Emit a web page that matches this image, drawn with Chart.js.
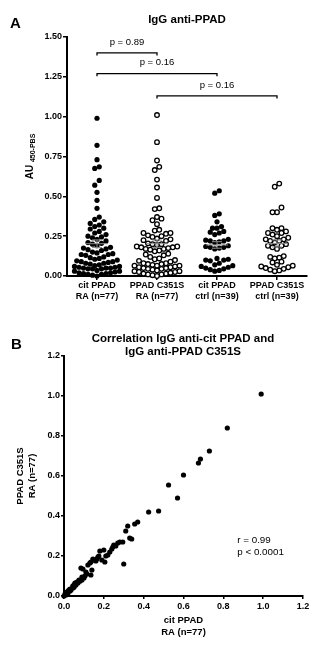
<!DOCTYPE html>
<html>
<head>
<meta charset="utf-8">
<script src="https://cdn.jsdelivr.net/npm/chart.js@4.4.0/dist/chart.umd.min.js"></script>
<style>
  html, body { margin: 0; padding: 0; background: #fff; }
  body { width: 336px; height: 649px; position: relative; overflow: hidden; }
  .wrap { position: absolute; left: 0; width: 336px; }
  #wrapA { top: 0; height: 310px; }
  #wrapB { top: 310px; height: 339px; }
</style>
</head>
<body>
<div class="wrap" id="wrapA"><canvas id="chartA"></canvas></div>
<div class="wrap" id="wrapB"><canvas id="chartB"></canvas></div>
<script>
// ---- data ----
const GROUP_LABELS = [
  ['cit PPAD', 'RA (n=77)'],
  ['PPAD C351S', 'RA (n=77)'],
  ['cit PPAD', 'ctrl (n=39)'],
  ['PPAD C351S', 'ctrl (n=39)'],
];

// paired RA sera: same index = same patient (used in both panels)
const citRA = [
  0.99, 0.82, 0.73, 0.685, 0.675, 0.60, 0.525, 0.57, 0.475, 0.425,
  0.37, 0.355, 0.32, 0.31, 0.34, 0.33, 0.295, 0.25, 0.245, 0.30,
  0.22, 0.21, 0.18, 0.20, 0.205, 0.17, 0.175, 0.165, 0.15, 0.145,
  0.135, 0.13, 0.12, 0.19, 0.16, 0.085, 0.095, 0.135, 0.115, 0.09,
  0.09, 0.26, 0.27, 0.23, 0.24, 0.28, 0.08, 0.075, 0.07, 0.065,
  0.06, 0.06, 0.055, 0.05, 0.05, 0.045, 0.045, 0.045, 0.05, 0.035,
  0.03, 0.03, 0.025, 0.02, 0.02, 0.015, 0.015, 0.01, 0.01, 0.005,
  0.0, 0.11, 0.10, 0.105, 0.08, 0.14, 0.055,
];
const c351sRA = [
  1.01, 0.84, 0.725, 0.685, 0.665, 0.605, 0.555, 0.49, 0.425, 0.42,
  0.37, 0.36, 0.35, 0.325, 0.285, 0.29, 0.27, 0.255, 0.245, 0.16,
  0.205, 0.20, 0.225, 0.23, 0.17, 0.195, 0.20, 0.185, 0.18, 0.185,
  0.17, 0.165, 0.155, 0.18, 0.175, 0.14, 0.135, 0.105, 0.11, 0.095,
  0.08, 0.25, 0.265, 0.22, 0.235, 0.27, 0.075, 0.08, 0.065, 0.07,
  0.055, 0.065, 0.06, 0.045, 0.055, 0.05, 0.04, 0.05, 0.045, 0.03,
  0.035, 0.025, 0.03, 0.025, 0.015, 0.02, 0.01, 0.015, 0.005, 0.01,
  0.0, 0.12, 0.09, 0.10, 0.075, 0.13, 0.065,
];
const citCtrl = [
  0.535, 0.52, 0.39, 0.38, 0.34, 0.31, 0.30, 0.30, 0.28, 0.275,
  0.27, 0.26, 0.23, 0.225, 0.22, 0.22, 0.215, 0.21, 0.19, 0.185,
  0.18, 0.18, 0.175, 0.17, 0.11, 0.105, 0.10, 0.10, 0.095, 0.08,
  0.07, 0.065, 0.06, 0.055, 0.05, 0.045, 0.04, 0.035, 0.03,
];
const c351sCtrl = [
  0.58, 0.56, 0.43, 0.40, 0.40, 0.30, 0.30, 0.29, 0.28, 0.27,
  0.27, 0.26, 0.25, 0.24, 0.23, 0.23, 0.22, 0.22, 0.21, 0.20,
  0.19, 0.19, 0.18, 0.17, 0.125, 0.12, 0.115, 0.11, 0.09, 0.085,
  0.07, 0.065, 0.06, 0.055, 0.05, 0.045, 0.04, 0.035, 0.03,
];

const Y_TICKS_A = [0, 0.25, 0.5, 0.75, 1.0, 1.25, 1.5];
const TICKS_B = [0, 0.2, 0.4, 0.6, 0.8, 1.0, 1.2];

const BRACKET_FROM = [0, 0, 1];
const BRACKET_TO = [1, 2, 3];
const BRACKET_LEVEL = [1.40, 1.27, 1.13];
const BRACKET_TEXT = ['p = 0.89', 'p = 0.16', 'p = 0.16'];

const CORR_TEXT = ['r = 0.99', 'p < 0.0001'];

// ---- look ----
const FONT = "'Liberation Sans', Arial, sans-serif";
const BLACK = '#000';
const MEAN_GREY = '#8c8c8c';

Chart.defaults.font.family = FONT;
Chart.defaults.color = BLACK;

// Prism-style column scatter: sorted values are grouped into rows (a row
// spans at most rowH px and holds at most maxRow dots), then each row is
// spread sideways from the centre, lowest value in the middle
function rowOffsets(values, pxPerUnit, rowH, step, maxRow) {
  const order = values.map((v, i) => i).sort((a, b) => values[a] - values[b]);
  const rows = [];
  let cur = [];
  order.forEach((i) => {
    if (cur.length && ((values[i] - values[cur[0]]) * pxPerUnit > rowH || cur.length >= maxRow)) {
      rows.push(cur);
      cur = [];
    }
    cur.push(i);
  });
  if (cur.length) rows.push(cur);

  const out = new Array(values.length);
  rows.forEach((idx) => {
    const n = idx.length;
    const slots = idx.map((_, j) => (j - (n - 1) / 2) * step);
    slots.sort((a, b) => Math.abs(a) - Math.abs(b) || a - b);
    idx.forEach((i, j) => { out[i] = slots[j]; });
  });
  return out;
}

const GROUPS_A = [citRA, c351sRA, citCtrl, c351sCtrl];
const PX_PER_Y = 239 / 1.5;
const PX_PER_CAT = 60;

function groupData(vals, gi) {
  const off = rowOffsets(vals, PX_PER_Y, 6, 4.5, 11);
  return vals.map((v, i) => ({ x: gi + off[i] / PX_PER_CAT, y: v }));
}

function filledSet(data) {
  return { data, pointRadius: 2.6, pointBackgroundColor: BLACK, pointBorderWidth: 0, clip: false };
}
function openSet(data) {
  return { data, pointRadius: 2.3, pointBackgroundColor: '#fff', pointBorderColor: BLACK, pointBorderWidth: 1.3, clip: false };
}

function axisStyle(tickLen) {
  return {
    grid: { display: true, drawOnChartArea: false, drawTicks: true, tickLength: tickLen, color: BLACK, lineWidth: 1.5 },
    border: { display: true, color: BLACK, width: 2 },
  };
}

// ---- panel A extras: titles, mean ± SEM, brackets ----
const panelAPlugin = {
  id: 'panelA',
  afterDatasetsDraw(chart) {
    const { ctx, scales: { x, y } } = chart;
    ctx.save();

    // mean with SEM
    ctx.strokeStyle = MEAN_GREY;
    ctx.lineWidth = 1;
    GROUPS_A.forEach((vals, gi) => {
      const n = vals.length;
      const mean = vals.reduce((s, v) => s + v, 0) / n;
      const sd = Math.sqrt(vals.reduce((s, v) => s + (v - mean) ** 2, 0) / (n - 1));
      const sem = sd / Math.sqrt(n);
      const cx = x.getPixelForValue(gi);
      const ym = y.getPixelForValue(mean);
      const yt = y.getPixelForValue(mean + sem);
      const yb = y.getPixelForValue(mean - sem);
      ctx.beginPath();
      ctx.moveTo(cx - 11, ym); ctx.lineTo(cx + 11, ym);
      ctx.moveTo(cx, yt); ctx.lineTo(cx, yb);
      ctx.moveTo(cx - 5, yt); ctx.lineTo(cx + 5, yt);
      ctx.moveTo(cx - 5, yb); ctx.lineTo(cx + 5, yb);
      ctx.stroke();
    });

    // significance brackets
    ctx.strokeStyle = BLACK;
    ctx.fillStyle = BLACK;
    ctx.lineWidth = 1.3;
    ctx.font = `9.5px ${FONT}`;
    ctx.textAlign = 'center';
    ctx.textBaseline = 'middle';
    BRACKET_TEXT.forEach((txt, i) => {
      const x1 = x.getPixelForValue(BRACKET_FROM[i]);
      const x2 = x.getPixelForValue(BRACKET_TO[i]);
      const yy = y.getPixelForValue(BRACKET_LEVEL[i]);
      ctx.beginPath();
      ctx.moveTo(x1, yy + 2.5); ctx.lineTo(x1, yy); ctx.lineTo(x2, yy); ctx.lineTo(x2, yy + 2.5);
      ctx.stroke();
      ctx.fillText(txt, (x1 + x2) / 2, yy - 11);
    });

    // title + panel letter
    ctx.font = `bold 11.5px ${FONT}`;
    ctx.fillText('IgG anti-PPAD', 187, 20);
    ctx.textAlign = 'left';
    ctx.textBaseline = 'alphabetic';
    ctx.font = `bold 15px ${FONT}`;
    ctx.fillText('A', 10, 27.5);

    // y title with subscript
    ctx.translate(33, (chart.chartArea.top + chart.chartArea.bottom) / 2);
    ctx.rotate(-Math.PI / 2);
    ctx.font = `bold 10px ${FONT}`;
    const main = 'AU ';
    const wMain = ctx.measureText(main).width;
    ctx.font = `bold 7px ${FONT}`;
    const sub = '450-PBS';
    const wSub = ctx.measureText(sub).width;
    const x0 = -(wMain + wSub) / 2;
    ctx.font = `bold 10px ${FONT}`;
    ctx.fillText(main, x0, 0);
    ctx.font = `bold 7px ${FONT}`;
    ctx.fillText(sub, x0 + wMain, 1.5);

    ctx.restore();
  },
};

new Chart(document.getElementById('chartA'), {
  type: 'scatter',
  data: {
    datasets: [
      filledSet(groupData(citRA, 0)),
      openSet(groupData(c351sRA, 1)),
      filledSet(groupData(citCtrl, 2)),
      openSet(groupData(c351sCtrl, 3)),
    ],
  },
  options: {
    responsive: true,
    maintainAspectRatio: false,
    animation: false,
    devicePixelRatio: 1,
    layout: { padding: { left: 0, right: 29, top: 37, bottom: 0 } },
    plugins: { legend: { display: false }, tooltip: { enabled: false } },
    scales: {
      x: {
        min: -0.5,
        max: 3.5,
        ...axisStyle(4),
        afterBuildTicks: (s) => { s.ticks = GROUP_LABELS.map((l, i) => ({ value: i })); },
        afterFit: (s) => { s.height = 34; },
        ticks: {
          padding: 0,
          autoSkip: false,
          maxRotation: 0,
          font: { size: 9, weight: 'bold', lineHeight: 1.22 },
          callback: (v) => GROUP_LABELS[v],
        },
      },
      y: {
        min: 0,
        max: 1.5,
        ...axisStyle(4),
        afterBuildTicks: (s) => { s.ticks = Y_TICKS_A.map((v) => ({ value: v })); },
        afterFit: (s) => { s.width = 67; },
        ticks: {
          padding: 1,
          font: { size: 9, weight: 'bold' },
          callback: (v) => v.toFixed(2),
        },
      },
    },
  },
  plugins: [panelAPlugin],
});

// ---- panel B ----
const panelBPlugin = {
  id: 'panelB',
  afterDatasetsDraw(chart) {
    const { ctx, scales: { x, y } } = chart;
    ctx.save();
    ctx.fillStyle = BLACK;
    ctx.textAlign = 'center';
    ctx.textBaseline = 'middle';
    ctx.font = `bold 11.5px ${FONT}`;
    ctx.fillText('Correlation IgG anti-cit PPAD and', 183, 29);
    ctx.fillText('IgG anti-PPAD C351S', 183, 42);

    ctx.textAlign = 'left';
    ctx.textBaseline = 'alphabetic';
    ctx.font = `bold 15px ${FONT}`;
    ctx.fillText('B', 11, 38.5);

    ctx.textBaseline = 'middle';
    ctx.font = `9.8px ${FONT}`;
    const tx = x.getPixelForValue(0.87);
    const ty = y.getPixelForValue(0.28);
    CORR_TEXT.forEach((t, i) => ctx.fillText(t, tx, ty + i * 12));
    ctx.restore();
  },
};

new Chart(document.getElementById('chartB'), {
  type: 'scatter',
  data: {
    datasets: [{
      data: citRA.map((v, i) => ({ x: v, y: c351sRA[i] })),
      pointRadius: 2.6,
      pointBackgroundColor: BLACK,
      pointBorderWidth: 0,
      clip: false,
    }],
  },
  options: {
    responsive: true,
    maintainAspectRatio: false,
    animation: false,
    devicePixelRatio: 1,
    layout: { padding: { left: 0, right: 33, top: 46, bottom: 0 } },
    plugins: { legend: { display: false }, tooltip: { enabled: false } },
    scales: {
      x: {
        min: 0,
        max: 1.2,
        ...axisStyle(3),
        afterBuildTicks: (s) => { s.ticks = TICKS_B.map((v) => ({ value: v })); },
        afterFit: (s) => { s.height = 53; },
        ticks: {
          padding: 2,
          maxRotation: 0,
          font: { size: 9, weight: 'bold' },
          callback: (v) => v.toFixed(1),
        },
        title: {
          display: true,
          text: ['cit PPAD', 'RA (n=77)'],
          font: { size: 9.5, weight: 'bold', lineHeight: 1.26 },
          padding: { top: 0, bottom: 11 },
        },
      },
      y: {
        min: 0,
        max: 1.2,
        ...axisStyle(3),
        afterBuildTicks: (s) => { s.ticks = TICKS_B.map((v) => ({ value: v })); },
        afterFit: (s) => { s.width = 64; },
        ticks: {
          padding: 1,
          font: { size: 9, weight: 'bold' },
          callback: (v) => v.toFixed(1),
        },
        title: {
          display: true,
          text: ['PPAD C351S', 'RA (n=77)'],
          font: { size: 9.5, weight: 'bold', lineHeight: 1.26 },
          padding: { top: 14, bottom: 0 },
        },
      },
    },
  },
  plugins: [panelBPlugin],
});
</script>
</body>
</html>
